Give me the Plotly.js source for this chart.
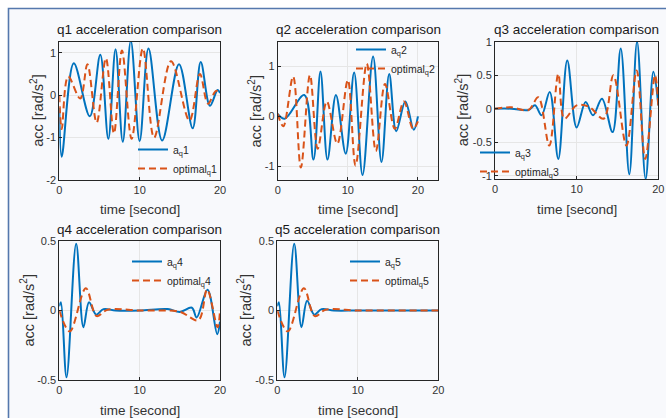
<!DOCTYPE html>
<html>
<head>
<meta charset="utf-8">
<script src="https://cdn.plot.ly/plotly-3.0.1.min.js"></script>
<style>html,body{margin:0;padding:0;background:#fff;}#chart{width:666px;height:418px;}</style>
</head>
<body>
<div id="chart"></div>
<script>
// ---------- data (time in seconds, acceleration in rad/s^2) ----------
const titles = ["q1 acceleration comparison","q2 acceleration comparison","q3 acceleration comparison","q4 acceleration comparison","q5 acceleration comparison"];
const nameA = ["a<sub>q</sub>1","a<sub>q</sub>2","a<sub>q</sub>3","a<sub>q</sub>4","a<sub>q</sub>5"];
const nameO = ["optimal<sub>q</sub>1","optimal<sub>q</sub>2","optimal<sub>q</sub>3","optimal<sub>q</sub>4","optimal<sub>q</sub>5"];

const t1_a = [0,0.3,1.8,3.8,5.1,6.1,7.0,7.9,8.9,10.0,11.1,12.8,14.9,16.6,17.6,18.75,19.7,20];
const v1_a = [-0.3,-1.45,0.75,-0.5,0.95,-1.03,1.08,-1.1,1.28,-1.08,1.1,-1.07,0.73,-0.78,0.78,-0.25,0.12,0.05];
const t1_o = [0,0.3,1.1,2.6,3.5,4.65,5.8,6.8,7.8,9.0,10.4,11.8,13.9,16.2,17.5,18.5,19.5,20];
const v1_o = [0,-0.8,0.44,-0.08,0.73,-0.65,0.87,-0.9,1.05,-1.03,1.1,-1.0,0.8,-0.6,0.5,-0.2,0.1,0.05];

const t2_a = [0,1.0,3.8,5.1,6.1,7.1,8.3,9.7,10.9,12.1,13.6,14.8,15.9,16.9,18.2,19.4,20];
const v2_a = [0.05,-0.05,0.43,-0.87,0.9,-0.87,0.43,-0.75,0.88,-1.18,1.2,-0.92,0.85,-0.3,0.3,-0.27,0.0];
const t2_o = [0,0.8,2.2,3.3,4.6,5.7,7.0,8.5,10.0,11.1,12.7,14.0,15.3,16.7,18.0,19.3,20];
const v2_o = [0.05,-0.2,0.8,-1.03,0.83,-0.65,0.3,-0.55,0.73,-0.99,1.06,-0.7,0.65,-0.25,0.3,-0.25,-0.1];

const t3_a = [0,2,4.1,4.9,5.7,6.7,7.75,8.85,10.0,11.1,12.0,13.1,14.4,15.4,16.45,17.4,18.45,19.4,20];
const v3_a = [0,0,-0.02,0.05,-0.1,0.25,-0.75,0.72,-0.28,0.1,-0.1,0.15,-0.35,0.9,-0.98,1.0,-1.05,0.55,0.05];
const t3_o = [0,2,4.1,5.3,6.65,7.75,8.5,10.0,11.5,13.3,14.5,16.1,17.35,18.4,19.6,20];
const v3_o = [0,0.02,-0.02,0.17,-0.55,0.52,-0.15,0.05,0.03,-0.15,0.5,-0.55,0.57,-0.75,0.5,0.05];

const t4_a = [0,0.2,0.9,2.1,3.0,3.7,4.6,5.5,7,10,13.5,15,16.5,17.1,18.45,19.65,20];
const v4_a = [0.03,0.06,-0.48,0.48,-0.12,0.06,-0.03,0.01,0,0,0.01,-0.01,0.02,-0.05,0.15,-0.17,-0.08];
const t4_o = [0,1.3,3.3,4.65,6,10,15,17.3,18.4,19.7,20];
const v4_o = [0,-0.15,0.16,-0.04,0.005,0,-0.01,-0.07,0.15,-0.12,0.0];

const t5_a = [0,0.2,0.9,2.1,3.0,3.7,4.6,5.5,7,10,15,20];
const v5_a = [0.03,0.06,-0.48,0.48,-0.12,0.07,-0.03,0.01,0,0,0,0];
const t5_o = [0,1.3,3.3,4.65,6,10,15,20];
const v5_o = [0,-0.15,0.16,-0.04,0.005,0,0,0];

const yTicks = [[-2,-1,0,1],[-1,0,1],[-1,-0.5,0,0.5,1],[-0.5,0,0.5],[-0.5,0,0.5]];
const xTicks = [0,10,20];

// ---------- layout geometry (pixels) ----------
const W = 666, H = 418;
const boxes = [
  {l:59.3, r:220.0, t:41.7, b:180.0, yr:[-2,1.26],    xr:[0,20]},
  {l:277.7,r:438.3, t:41.7, b:179.5, yr:[-1.27,1.5],  xr:[0,22.9]},
  {l:495.0,r:658.3, t:41.7, b:179.0, yr:[-1.05,1.0],  xr:[0,20]},
  {l:59.3, r:220.0, t:241.0,b:380.0, yr:[-0.5,0.5],   xr:[0,20]},
  {l:277.3,r:438.3, t:241.0,b:380.0, yr:[-0.5,0.5],   xr:[0,20]}
];
const legPos = [
  {x:133, y:135}, {x:351, y:35}, {x:475, y:138}, {x:127, y:247}, {x:345, y:247}
];
const yTitleX = [37, 255, 462, 27, 244];

const series = [[t1_a,v1_a,t1_o,v1_o],[t2_a,v2_a,t2_o,v2_o],[t3_a,v3_a,t3_o,v3_o],[t4_a,v4_a,t4_o,v4_o],[t5_a,v5_a,t5_o,v5_o]];

const BLUE = '#0072BD', ORANGE = '#D95319', AX = '#262626';
const FONT = 'Liberation Sans, Arial, Helvetica, sans-serif';

const data = [];
const layout = {
  width: W, height: H,
  margin: {l:0, r:0, t:0, b:0},
  paper_bgcolor: '#ffffff',
  plot_bgcolor: '#ffffff',
  font: {family: FONT, color: AX, size: 11},
  showlegend: true,
  shapes: [{
    type:'rect', xref:'paper', yref:'paper', layer:'below',
    x0: 8.5/W, x1: 1.05, y0: -0.05, y1: 1 - 8.5/H,
    line:{color:'#5578ad', width:1.6}, fillcolor:'#f8f9fc'
  }],
  annotations: []
};

boxes.forEach((b, i) => {
  const k = i + 1;
  const xa = k === 1 ? 'x' : 'x' + k;
  const ya = k === 1 ? 'y' : 'y' + k;
  const lg = k === 1 ? 'legend' : 'legend' + k;
  const s = series[i];
  data.push({x:s[0], y:s[1], xaxis:xa, yaxis:ya, type:'scatter', mode:'lines', name:nameA[i], legend:lg,
    line:{color:BLUE, width:2, shape:'spline', smoothing:1}});
  data.push({x:s[2], y:s[3], xaxis:xa, yaxis:ya, type:'scatter', mode:'lines', name:nameO[i], legend:lg,
    line:{color:ORANGE, width:2, dash:'7px,4px', shape:'spline', smoothing:1}});

  const axCommon = {showline:true, mirror:true, linecolor:AX, linewidth:1, ticks:'inside', ticklen:3, tickcolor:AX,
    showgrid:true, gridcolor:'#e6e6e6', gridwidth:1, zeroline:false, tickfont:{size:11, color:'#333', family:FONT}, fixedrange:true};
  layout[k === 1 ? 'xaxis' : 'xaxis' + k] = Object.assign({}, axCommon, {
    domain:[b.l/W, b.r/W], range:b.xr, anchor:ya, tickmode:'array', tickvals:xTicks, ticktext:xTicks.map(String)
  });
  layout[k === 1 ? 'yaxis' : 'yaxis' + k] = Object.assign({}, axCommon, {
    domain:[1 - b.b/H, 1 - b.t/H], range:b.yr, anchor:xa, tickmode:'array', tickvals:yTicks[i], ticktext:yTicks[i].map(String)
  });
  layout[lg] = {x: legPos[i].x/W, y: 1 - legPos[i].y/H, xanchor:'left', yanchor:'top', bgcolor:'rgba(0,0,0,0)',
    borderwidth:0, font:{size:10.5, color:'#262626', family:FONT}, tracegroupgap:0, itemwidth:30};

  // subplot title
  layout.annotations.push({xref:'paper', yref:'paper', x:(b.l+b.r)/2/W, y:1 - (b.t - 12)/H, text:titles[i],
    showarrow:false, xanchor:'center', yanchor:'middle', font:{size:13.5, color:'#1a1a1a', family:FONT}});
  // x axis title
  layout.annotations.push({xref:'paper', yref:'paper', x:(b.l+b.r)/2/W, y:1 - (b.b + 30)/H, text:'time [second]',
    showarrow:false, xanchor:'center', yanchor:'middle', font:{size:13.5, color:'#333', family:FONT}});
  // y axis title
  layout.annotations.push({xref:'paper', yref:'paper', x:yTitleX[i]/W, y:1 - (b.t+b.b)/2/H, text:'acc [rad/s<sup>2</sup>]',
    showarrow:false, xanchor:'center', yanchor:'middle', textangle:-90, font:{size:14.5, color:'#333', family:FONT}});
});

Plotly.newPlot('chart', data, layout, {staticPlot:true, displayModeBar:false});
</script>
</body>
</html>
